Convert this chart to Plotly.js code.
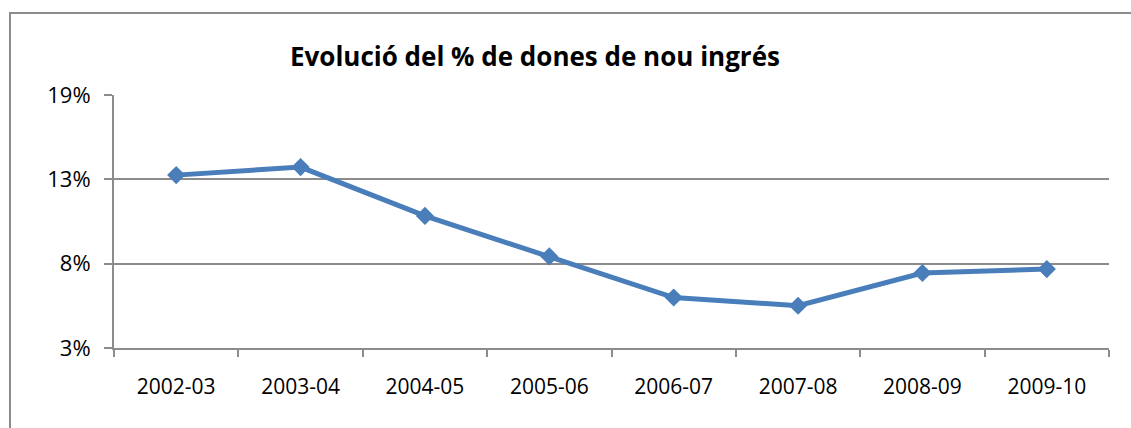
<!DOCTYPE html>
<html>
<head>
<meta charset="utf-8">
<script src="https://cdn.plot.ly/plotly-3.0.1.min.js"></script>
<style>
html,body{margin:0;padding:0;background:#fff;}
#wrap{position:relative;width:1131px;height:428px;overflow:hidden;}
#frame{position:absolute;left:9px;top:12px;width:1200px;height:500px;border-left:2px solid #8c8c8c;border-top:2px solid #8c8c8c;pointer-events:none;}
#chart{position:absolute;left:0;top:0;width:1131px;height:428px;}
</style>
</head>
<body>
<div id="wrap">
<div id="chart"></div>
<div id="frame"></div>
</div>
<script>
const categories = ['2002-03','2003-04','2004-05','2005-06','2006-07','2007-08','2008-09','2009-10'];
const womenPct = [13.60, 14.11, 11.02, 8.46, 5.86, 5.34, 7.41, 7.66];
const yTickVals = [2.667, 8.0, 13.333, 18.667];
const yTickText = ['3%', '8%', '13%', '19%'];
const titleText = 'Evolució del % de dones de nou ingrés';

const trace = {
  x: categories,
  y: womenPct,
  type: 'scatter',
  mode: 'lines+markers',
  line: {color: '#4a7ebb', width: 5},
  marker: {symbol: 'diamond', size: 14, color: '#4a7ebb'},
  hoverinfo: 'skip'
};

const layout = {
  width: 1131,
  height: 428,
  margin: {l: 114, r: 22, t: 95, b: 80},
  paper_bgcolor: 'rgba(0,0,0,0)',
  plot_bgcolor: '#fff',
  showlegend: false,
  font: {family: '"Open Sans", sans-serif', color: '#000', size: 20},
  title: {
    text: '<b>' + titleText + '</b>',
    font: {family: '"Open Sans", sans-serif', size: 26, color: '#000'},
    x: 0.473, xref: 'container', xanchor: 'center',
    y: 0.868, yref: 'container', yanchor: 'middle'
  },
  xaxis: {
    type: 'category',
    range: [-0.5, 7.5],
    tickson: 'boundaries',
    ticks: 'outside',
    ticklen: 7,
    tickwidth: 2,
    tickcolor: '#8c8c8c',
    showline: true,
    linecolor: '#8c8c8c',
    linewidth: 2,
    showgrid: false,
    zeroline: false,
    tickfont: {size: 21},
    ticklabelstandoff: 19
  },
  yaxis: {
    range: [yTickVals[0], yTickVals[yTickVals.length - 1]],
    tickmode: 'array',
    tickvals: yTickVals,
    ticktext: yTickText,
    ticks: 'outside',
    ticklen: 8,
    tickwidth: 2,
    tickcolor: '#8c8c8c',
    showline: true,
    linecolor: '#8c8c8c',
    linewidth: 2,
    showgrid: true,
    gridcolor: '#8c8c8c',
    gridwidth: 2,
    zeroline: false,
    tickfont: {size: 22},
    ticklabelstandoff: 9
  }
};

Plotly.newPlot('chart', [trace], layout, {displayModeBar: false, staticPlot: true});
</script>
</body>
</html>
